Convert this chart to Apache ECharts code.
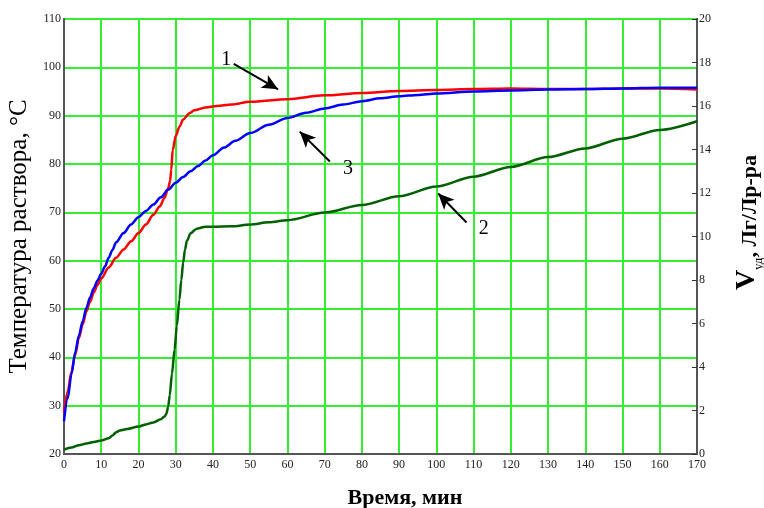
<!DOCTYPE html>
<html>
<head>
<meta charset="utf-8">
<script src="https://cdn.jsdelivr.net/npm/echarts@6/dist/echarts.min.js"></script>
<style>
  html, body { margin: 0; padding: 0; background: #fff; }
  #chart { width: 764px; height: 508px; }
</style>
</head>
<body>
<div id="chart"></div>
<script>
// Curve 1: solution temperature, °C (left axis)
const timeRed = [0, 1, 2, 3, 4, 5, 6, 7, 8, 9, 10, 12, 14, 16, 18, 20, 22, 24, 25.7, 27, 28, 28.5, 28.8, 29.2, 30, 31, 32, 33.7, 35, 38, 41, 45, 50, 60, 70, 80, 90, 100, 110, 120, 130, 140, 150, 160, 170];
const tempRed = [28.5, 33, 37, 40.5, 44, 46.8, 49.5, 51.5, 53.4, 55, 56.3, 58.6, 60.6, 62.3, 64, 65.7, 67.5, 69.5, 71.2, 73.0, 75.0, 76.5, 78.8, 82.9, 85.8, 87.7, 89.2, 90.5, 91.1, 91.7, 92.0, 92.3, 92.9, 93.4, 94.2, 94.7, 95.1, 95.3, 95.5, 95.6, 95.5, 95.5, 95.6, 95.6, 95.4];

// Curve 3: solution temperature, °C (left axis)
const timeBlue = [0, 1, 2, 3, 4, 5, 6, 7, 8, 9, 10, 11, 12, 13, 14, 16, 18, 20, 22, 24, 26, 28, 30, 32, 34, 36, 38, 40, 43, 46, 50, 55, 60, 65, 70, 75, 80, 85, 90, 95, 100, 110, 120, 130, 140, 150, 160, 170];
const tempBlue = [26.8, 31.5, 36.5, 41, 44.5, 47.4, 50.2, 52.4, 54.3, 55.9, 57.3, 58.8, 60.6, 62.2, 63.8, 65.7, 67.5, 69.0, 70.3, 71.6, 73.1, 74.7, 76.1, 77.3, 78.5, 79.6, 80.7, 81.8, 83.4, 84.8, 86.4, 88.1, 89.5, 90.6, 91.5, 92.3, 93.0, 93.6, 94.0, 94.3, 94.6, 95.0, 95.2, 95.4, 95.5, 95.6, 95.8, 95.8];

// Curve 2: specific volume, Лг/Лр-ра (right axis)
const timeGreen = [0, 2, 4, 6, 8, 10, 12, 13, 14, 15, 17, 20, 22, 24, 26, 27, 27.5, 28, 28.4, 29, 29.7, 30.3, 31, 31.5, 32, 32.5, 33, 34, 35.5, 38, 40, 45, 50, 55, 60, 70, 80, 90, 100, 110, 120, 130, 140, 150, 160, 170];
const volGreen = [0.2, 0.3, 0.4, 0.48, 0.55, 0.62, 0.72, 0.85, 1.0, 1.08, 1.15, 1.26, 1.36, 1.45, 1.6, 1.72, 1.85, 2.2, 2.7, 3.7, 4.8, 5.9, 7.1, 8.0, 8.8, 9.4, 9.8, 10.15, 10.35, 10.45, 10.45, 10.47, 10.55, 10.65, 10.75, 11.1, 11.45, 11.85, 12.3, 12.75, 13.2, 13.65, 14.05, 14.5, 14.9, 15.3];

// Curve callouts: number, its position, arrow tail and arrow tip (time, °C)
const calloutText = ['1', '3', '2'];
const calloutAt = [[43.6, 101.5], [76.3, 79.1], [112.75, 66.7]];
const arrowFrom = [[45.6, 100.7], [71.4, 80.5], [108.1, 67.9]];
const arrowTo = [[57.5, 95.45], [63.3, 86.7], [100.5, 73.9]];

// Axis ranges and ticks
const timeMin = 0, timeMax = 170, timeStep = 10;
const tempMin = 20, tempMax = 110, tempStep = 10;
const volMin = 0, volMax = 20, volStep = 2;

const zip = (xs, ys) => xs.map((x, i) => [x, ys[i]]);

const serif = '"Liberation Serif", "DejaVu Serif", serif';
const gridGreen = '#33ee33';
const axisGray = '#555';

const tickLabel = { fontFamily: serif, fontSize: 12, color: '#222' };

const chart = echarts.init(document.getElementById('chart'), null, { renderer: 'canvas' });

chart.setOption({
  animation: false,
  backgroundColor: '#fff',
  grid: {
    left: 64, right: 67, top: 19, bottom: 54,
    containLabel: false,
    outerBoundsMode: 'none',
    show: true, borderColor: axisGray, borderWidth: 2, backgroundColor: 'transparent'
  },
  xAxis: {
    type: 'value',
    min: timeMin, max: timeMax, interval: timeStep,
    name: 'Время, мин',
    nameLocation: 'middle',
    nameGap: 33,
    nameTextStyle: { fontFamily: serif, fontSize: 22, fontWeight: 'bold', color: '#000', padding: [0, 0, 0, 49] },
    axisLine: { lineStyle: { color: axisGray, width: 2 } },
    axisTick: { show: false },
    axisLabel: Object.assign({ margin: 5 }, tickLabel),
    splitLine: { show: true, lineStyle: { color: gridGreen, width: 2 } }
  },
  yAxis: [
    {
      type: 'value',
      min: tempMin, max: tempMax, interval: tempStep,
      name: 'Температура раствора, °С',
      nameLocation: 'middle',
      nameGap: 28,
      nameTextStyle: { fontFamily: serif, fontSize: 25, color: '#000' },
      axisLine: { show: true, lineStyle: { color: axisGray, width: 2 } },
      axisTick: { show: false },
      axisLabel: Object.assign({ margin: 3 }, tickLabel),
      splitLine: { show: true, lineStyle: { color: gridGreen, width: 2 } }
    },
    {
      type: 'value',
      position: 'right',
      min: volMin, max: volMax, interval: volStep,
      name: '{v|V}{s|уд}{t|, Лг/Лр-ра}',
      nameLocation: 'middle',
      nameGap: 36,
      nameRotate: 90,
      nameTextStyle: {
        padding: [0, 0, 0, 28],
        rich: {
          v: { fontFamily: serif, fontSize: 28, fontWeight: 'bold', color: '#000', verticalAlign: 'bottom' },
          s: { fontFamily: serif, fontSize: 13, color: '#000', verticalAlign: 'bottom', padding: [0, 0, -4, 0] },
          t: { fontFamily: serif, fontSize: 22, fontWeight: 'bold', color: '#000', verticalAlign: 'bottom' }
        }
      },
      axisLine: { show: true, lineStyle: { color: axisGray, width: 2 } },
      axisTick: { show: true, inside: true, length: 5, lineStyle: { color: '#333', width: 1 } },
      axisLabel: Object.assign({ margin: 2 }, tickLabel),
      splitLine: { show: false }
    }
  ],
  series: [
    {
      name: '2',
      type: 'line',
      yAxisIndex: 1,
      data: zip(timeGreen, volGreen),
      showSymbol: false,
      smooth: 0.3,
      smoothMonotone: 'x',
      lineStyle: { color: '#006000', width: 2.5 },
      z: 3
    },
    {
      name: '1',
      type: 'line',
      yAxisIndex: 0,
      data: zip(timeRed, tempRed),
      showSymbol: false,
      smooth: 0.3,
      smoothMonotone: 'x',
      lineStyle: { color: '#ff0000', width: 2.5 },
      z: 4,
      markLine: {
        silent: true,
        symbol: ['none', 'arrow'],
        symbolSize: [11, 16],
        label: { show: false },
        lineStyle: { color: '#000', width: 2, type: 'solid' },
        data: arrowFrom.map((p, i) => [{ coord: p }, { coord: arrowTo[i] }])
      },
      markPoint: {
        silent: true,
        symbol: 'circle',
        symbolSize: 1,
        itemStyle: { color: 'rgba(0,0,0,0)' },
        label: {
          show: true, position: 'inside',
          fontFamily: serif, fontSize: 20, color: '#000',
          formatter: p => p.name
        },
        data: calloutAt.map((p, i) => ({ name: calloutText[i], coord: p }))
      }
    },
    {
      name: '3',
      type: 'line',
      yAxisIndex: 0,
      data: zip(timeBlue, tempBlue),
      showSymbol: false,
      smooth: 0.3,
      smoothMonotone: 'x',
      lineStyle: { color: '#0000ff', width: 2.5 },
      z: 5
    }
  ]
});
</script>
</body>
</html>
